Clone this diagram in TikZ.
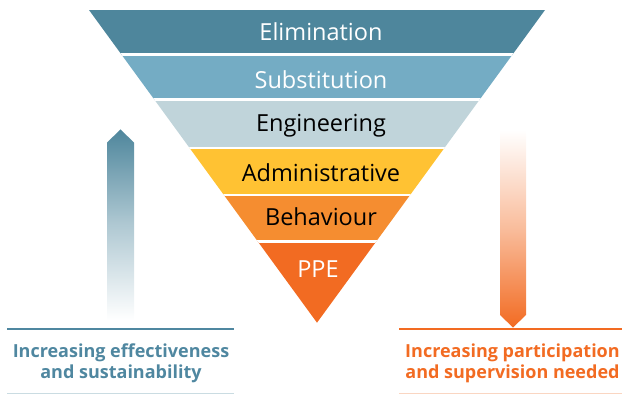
\documentclass[tikz,border=0pt]{standalone}
\usepackage{fontspec}
\setmainfont{Open Sans}
\definecolor{cElim}{HTML}{4E869C}
\definecolor{cSubs}{HTML}{74ACC4}
\definecolor{cEng}{HTML}{C0D4DA}
\definecolor{cAdm}{HTML}{FFC233}
\definecolor{cBeh}{HTML}{F58D30}
\definecolor{cPPE}{HTML}{F26B22}
\definecolor{cTeal}{HTML}{4F87A0}
\definecolor{cTealLight}{HTML}{CADCE2}
\definecolor{cOrLight}{HTML}{FAD6C2}
\begin{document}
\begin{tikzpicture}[x=1pt,y=-1pt,
  bandtext/.style={font=\fontsize{23.5}{26}\selectfont, inner sep=0pt, anchor=base},
  caption/.style={font=\bfseries\fontsize{18}{21}\selectfont, align=center, inner sep=0pt, anchor=base}]
\useasboundingbox (0,0) rectangle (622,394);
\begin{scope}
  \clip (89,10) -- (545,10) -- (317,322.7) -- cycle;
  \fill[cElim] (0,10) rectangle (622,54.5);
  \fill[cSubs] (0,54.5) rectangle (622,99.5);
  \fill[cEng] (0,99.5) rectangle (622,148);
  \fill[cAdm] (0,148) rectangle (622,195);
  \fill[cBeh] (0,195) rectangle (622,241.5);
  \fill[cPPE] (0,241.5) rectangle (622,330);
  \foreach \yy in {54.5,99.5,148,195,241.5}
    \draw[white, line width=2.2pt] (0,\yy) -- (622,\yy);
\end{scope}
\node[bandtext, text=white] (elim) at (321,40.7) {Elimination};
\node[bandtext, text=white] (subs) at (321,88.3) {Substitution};
\node[bandtext, text=black] (eng) at (321,131.7) {Engineering};
\node[bandtext, text=black] (adm) at (321,181.7) {Administrative};
\node[bandtext, text=black] (beh) at (321,225) {Behaviour};
\node[bandtext, text=white] (ppe) at (318,277.3) {PPE};
% left arrow
\shade[top color=cElim, bottom color=white, middle color=cElim!45!white]
  (107,320) -- (107,142.7) -- (120.5,129.3) -- (134,142.7) -- (134,320) -- cycle;
% right arrow
\shade[top color=white, bottom color=cPPE, middle color=cPPE!45!white]
  (500,130) -- (500,315) -- (513,327.5) -- (526,315) -- (526,130) -- cycle;
% rules
\draw[cTeal, line width=2pt] (7,329.3) -- (234,329.3);
\draw[cTealLight, line width=1pt] (7,393) -- (234,393);
\draw[cPPE, line width=2pt] (399,329.3) -- (622,329.3);
\draw[cOrLight, line width=1pt] (399,393) -- (622,393);
\node[caption, text=cTeal] (capl) at (121,378.3) {Increasing effectiveness\\and sustainability};
\node[caption, text=cPPE] (capr) at (512.5,378.3) {Increasing participation\\and supervision needed};
\end{tikzpicture}
\end{document}
